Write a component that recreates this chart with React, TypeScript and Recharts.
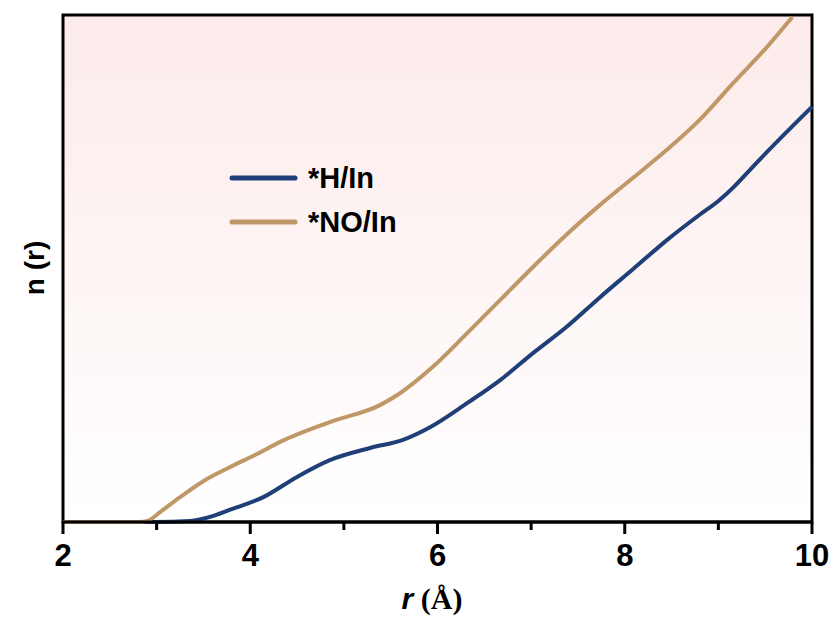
import React from "react";
import { LineChart, Line, XAxis, YAxis, ReferenceArea } from "recharts";

// r (Å) sample positions and n(r) values (arbitrary units, 0-100 = plot height)
const rH = [2.0, 2.98, 3.36, 3.57, 3.78, 4.14, 4.5, 4.85, 5.28, 5.63, 5.92, 6.32, 6.67, 7.02, 7.38, 7.74, 8.09, 8.45, 8.8, 9.0, 9.16, 9.34, 9.52, 10.0];
const nH = [0, 0, 0.2, 1.0, 2.4, 4.9, 8.9, 12.2, 14.6, 16.2, 18.7, 23.5, 28.0, 33.3, 38.5, 44.4, 49.9, 55.6, 60.6, 63.3, 66.0, 69.5, 73.0, 81.9];

const rNO = [2.0, 2.82, 2.9, 3.04, 3.25, 3.52, 3.78, 4.05, 4.32, 4.85, 5.39, 5.6, 5.95, 6.32, 6.67, 7.02, 7.42, 7.74, 8.09, 8.45, 8.8, 9.16, 9.52, 9.79];
const nNO = [0, 0, 0.2, 2.0, 4.9, 8.3, 10.8, 13.2, 15.8, 19.7, 23.1, 25.4, 30.6, 37.3, 43.8, 50.3, 57.4, 62.6, 67.9, 73.4, 79.3, 86.6, 93.7, 99.6];

const xTicks = [2, 3, 4, 5, 6, 7, 8, 9, 10];
const seriesNames = ["*H/In", "*NO/In"];
const colors = ["#1f3f78", "#c09766"];

const dataH = rH.map((r, i) => ({ r, n: nH[i] }));
const dataNO = rNO.map((r, i) => ({ r, n: nNO[i] }));

const FONT = "'Liberation Sans', Arial, sans-serif";

const Tick = (props: any) => {
  const { x, y, payload } = props;
  const major = payload.value % 2 === 0;
  return (
    <g>
      <line x1={x} x2={x} y1={y} y2={y + (major ? 12 : 8)} stroke="#000" strokeWidth={3} />
      {major && (
        <text x={x} y={y + 44} textAnchor="middle" fontFamily={FONT} fontWeight="bold" fontSize={31} fill="#000">
          {payload.value}
        </text>
      )}
    </g>
  );
};

const LegendBox = () => (
  <div
    style={{
      position: "absolute",
      left: 229,
      top: 156,
      fontFamily: FONT,
      fontWeight: "bold",
      fontSize: 29,
      color: "#000",
      pointerEvents: "none",
    }}
  >
    {seriesNames.map((name, i) => (
      <div key={name} style={{ display: "flex", alignItems: "center", height: 44 }}>
        <svg width={70} height={10} style={{ marginRight: 9 }}>
          <line x1={3} x2={66} y1={5} y2={5} stroke={colors[i]} strokeWidth={5} strokeLinecap="round" />
        </svg>
        <span>{name}</span>
      </div>
    ))}
  </div>
);

export default function App() {
  return (
    <div style={{ position: "absolute", left: 0, top: 0, width: 836, height: 619, background: "#fff" }}>
      <LineChart width={836} height={619} margin={{ top: 15, right: 24, left: 63, bottom: 37 }}>
        <defs>
          <linearGradient id="bg" x1="0" y1="0" x2="0" y2="1">
            <stop offset="0%" stopColor="#fcebea" />
            <stop offset="100%" stopColor="#ffffff" />
          </linearGradient>
        </defs>
        <XAxis
          type="number"
          dataKey="r"
          domain={[2, 10]}
          ticks={xTicks}
          interval={0}
          tickSize={0}
          tickMargin={0}
          tickLine={false}
          axisLine={{ stroke: "#000", strokeWidth: 3 }}
          tick={<Tick />}
          height={60}
          allowDuplicatedCategory={false}
        />
        <YAxis type="number" domain={[0, 100]} hide width={0} />
        <ReferenceArea x1={2} x2={10} y1={0} y2={100} fill="url(#bg)" fillOpacity={1} stroke="#000" strokeWidth={3} />
        <Line data={dataH} dataKey="n" type="monotone" stroke={colors[0]} strokeWidth={4} dot={false} isAnimationActive={false} name={seriesNames[0]} />
        <Line data={dataNO} dataKey="n" type="monotone" stroke={colors[1]} strokeWidth={4} dot={false} isAnimationActive={false} name={seriesNames[1]} />
        <text x={432} y={609} textAnchor="middle" fontFamily={FONT} fontWeight="bold" fontSize={30} fill="#000">
          <tspan fontStyle="italic">r</tspan>
          <tspan fontFamily="'Liberation Serif', 'Times New Roman', serif"> (Å)</tspan>
        </text>
        <text x={44} y={268} transform="rotate(-90 44 268)" textAnchor="middle" fontFamily={FONT} fontWeight="bold" fontSize={28} fill="#000">
          n (r)
        </text>
      </LineChart>
      <LegendBox />
    </div>
  );
}
